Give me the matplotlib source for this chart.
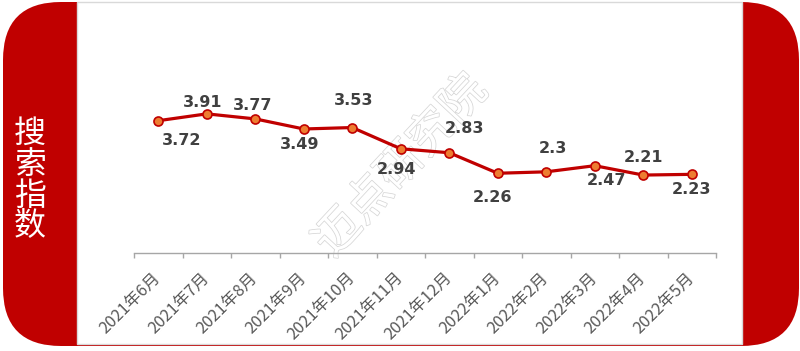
import numpy as np
import matplotlib
matplotlib.use('Agg')
import matplotlib.pyplot as plt
import matplotlib.patheffects as pe
from matplotlib.patches import FancyBboxPatch, Rectangle

plt.rcParams["font.family"] = ["Noto Sans CJK SC", "DejaVu Sans"]
plt.rcParams["axes.unicode_minus"] = False

months = ["2021年6月", "2021年7月", "2021年8月", "2021年9月", "2021年10月", "2021年11月",
          "2021年12月", "2022年1月", "2022年2月", "2022年3月", "2022年4月", "2022年5月"]
values = [3.72, 3.91, 3.77, 3.49, 3.53, 2.94, 2.83, 2.26, 2.3, 2.47, 2.21, 2.23]
value_labels = ["3.72", "3.91", "3.77", "3.49", "3.53", "2.94", "2.83", "2.26", "2.3", "2.47", "2.21", "2.23"]
title = "搜索指数"
watermark = "迈点研究院"

# label offsets from the point, in pixels (x right, y up)
label_offsets = [(23, -20), (-4, 11), (-3, 13), (-4, -16), (1, 27), (-4, -21),
                 (15, 24), (-5, -24), (7, 23), (12, -15), (0, 18), (0, -15)]

RED = '#C00000'
W, H = 800, 351

fig = plt.figure(figsize=(W / 100, H / 100), dpi=100)

# background frame drawn in pixel coordinates
bg = fig.add_axes([0, 0, 1, 1])
bg.set_xlim(0, W)
bg.set_ylim(H, 0)
bg.axis('off')
bg.add_patch(FancyBboxPatch((3, 2), 796, 344, boxstyle="round,pad=0,rounding_size=58",
                            facecolor=RED, edgecolor='none'))
bg.add_patch(Rectangle((77, 2), 665, 342, facecolor='white', edgecolor='#d9d9d9', linewidth=1))
bg.text(30, 180, "\n".join(title), color='white', fontsize=23, linespacing=0.96,
        ha='center', va='center')
bg.text(401, 166, watermark, color='white', fontsize=33, rotation=47,
        ha='center', va='center',
        path_effects=[pe.Stroke(linewidth=1.1, foreground='#d6d6d6'), pe.Normal()])

# chart area: y=0 sits about 1.6 px below the axis line
px_per_unit = 36.0
y_lo, y_hi = 0.045, 6.0
ax = fig.add_axes([134 / W, (H - 253) / H, 582 / W, (y_hi - y_lo) * px_per_unit / H])
ax.set_facecolor('none')
x = np.arange(len(values))
ax.plot(x, values, color=RED, linewidth=2.3, marker='o', markersize=6.5,
        markerfacecolor='#ED7D31', markeredgecolor=RED, markeredgewidth=1.2, zorder=3)

for xi, v, lab, (dx, dy) in zip(x, values, value_labels, label_offsets):
    ax.annotate(lab, (xi, v), xytext=(dx, dy), textcoords='offset pixels',
                ha='center', va='center', fontsize=11.5, fontweight='bold',
                color='#404040', family='DejaVu Sans')

ax.set_xlim(-0.5, len(values) - 0.5)
ax.set_ylim(y_lo, y_hi)
for s in ['top', 'right', 'left']:
    ax.spines[s].set_visible(False)
ax.spines['bottom'].set_color('#A6A6A6')
ax.spines['bottom'].set_linewidth(1)
ax.set_yticks([])

ax.set_xticks(np.arange(-0.5, len(values), 1))
ax.set_xticklabels([])
ax.tick_params(axis='x', which='major', direction='out', length=3.6, color='#A6A6A6', width=1)
ax.set_xticks(x, minor=True)
ax.set_xticklabels(months, minor=True, rotation=45, ha='right', va='center',
                   rotation_mode='anchor', fontsize=11.8, color='#595959')
ax.tick_params(axis='x', which='minor', length=0, pad=16)

fig.savefig('out.png', dpi=100)
